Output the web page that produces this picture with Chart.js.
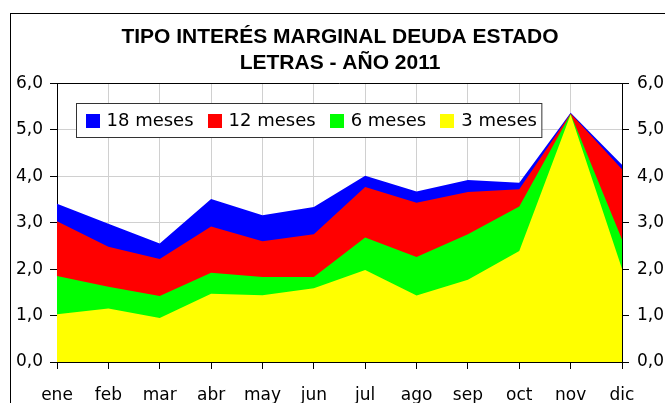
<!DOCTYPE html>
<html>
<head>
<meta charset="utf-8">
<script src="https://cdn.jsdelivr.net/npm/chart.js@4/dist/chart.umd.min.js"></script>
<style>
html,body{margin:0;padding:0;background:#fff;}
canvas{display:block;}
</style>
</head>
<body>
<canvas id="c" width="665" height="403"></canvas>
<script>
const months = ['ene','feb','mar','abr','may','jun','jul','ago','sep','oct','nov','dic'];
const labels = ['18 meses','12 meses','6 meses','3 meses'];
const m18 = [3.41,2.98,2.55,3.51,3.16,3.34,4.01,3.67,3.92,3.86,5.37,4.25];
const m12 = [3.03,2.48,2.22,2.92,2.60,2.75,3.77,3.43,3.66,3.72,5.35,4.15];
const m6  = [1.85,1.62,1.42,1.92,1.83,1.83,2.68,2.26,2.75,3.35,5.34,2.64];
const m3  = [1.03,1.15,0.95,1.47,1.44,1.59,1.98,1.43,1.77,2.39,5.33,2.01];
const yTicks = [0,1,2,3,4,5,6];
const titleLines = ['TIPO INTERÉS MARGINAL DEUDA ESTADO','LETRAS - AÑO 2011'];

const colors = ['#0000FF','#FF0000','#00FF00','#FFFF00'];
const series = [m18,m12,m6,m3];
const FONT = 'DejaVu Sans';

const framePlugin = {
  id:'frame',
  beforeDraw(chart){
    const ctx = chart.ctx;
    ctx.save();
    ctx.fillStyle = '#fff';
    ctx.fillRect(0,0,chart.width,chart.height);
    ctx.strokeStyle = '#000';
    ctx.lineWidth = 1;
    ctx.strokeRect(10.5,13.5,800,600);
    ctx.restore();
  },
  afterDatasetsDraw(chart){
    const ctx = chart.ctx, a = chart.chartArea;
    ctx.save();
    ctx.strokeStyle = '#000';
    ctx.lineWidth = 1;
    ctx.beginPath();
    ctx.moveTo(a.left, Math.round(a.top)+0.5);
    ctx.lineTo(a.right, Math.round(a.top)+0.5);
    ctx.stroke();
    // legend box
    ctx.font = '18px "' + FONT + '"';
    ctx.textBaseline = 'middle';
    ctx.textAlign = 'left';
    const sq = 14, gapSq = 7, gapItem = 14, padL = 9, padR = 5, h = 34;
    const items = chart.data.datasets.map(d => ({label: d.label, color: d.backgroundColor}));
    let w = padL;
    items.forEach((it,i) => { w += sq + gapSq + ctx.measureText(it.label).width + (i < items.length-1 ? gapItem : padR); });
    const x0 = Math.round(a.left + 19) + 0.5, y0 = Math.round(a.top + 20) + 0.5;
    ctx.fillStyle = '#fff';
    ctx.fillRect(x0, y0, w, h);
    ctx.strokeStyle = '#333';
    ctx.strokeRect(x0, y0, w, h);
    let x = x0 + padL;
    const cy = y0 + h/2;
    items.forEach(it => {
      ctx.fillStyle = it.color;
      ctx.fillRect(Math.round(x), Math.round(cy - sq/2), sq, sq);
      x += sq + gapSq;
      ctx.fillStyle = '#000';
      ctx.fillText(it.label, x, cy + 1);
      x += ctx.measureText(it.label).width + gapItem;
    });
    ctx.restore();
  }
};

const fmt = v => Number(v).toFixed(1).replace('.', ',');

new Chart(document.getElementById('c'), {
  type: 'line',
  data: {
    labels: months,
    datasets: series.map((s,i) => ({
      label: labels[i],
      data: s,
      backgroundColor: colors[i],
      borderColor: colors[i],
      borderWidth: 0,
      pointRadius: 0,
      fill: 'origin',
      tension: 0,
      order: 4 - i,
      yAxisID: 'y'
    }))
  },
  options: {
    responsive: false,
    animation: false,
    devicePixelRatio: 1,
    layout: { padding: { left: 15, right: 0, top: 0, bottom: 0 } },
    plugins: {
      legend: { display: false },
      tooltip: { enabled: false },
      title: {
        display: true,
        text: titleLines,
        color: '#000',
        font: { family: 'Liberation Sans', size: 21, weight: 'bold', lineHeight: 1.2 },
        padding: { top: 25, bottom: 8 }
      }
    },
    scales: {
      x: {
        offset: false,
        grid: { color: '#d0d0d0', tickColor: '#000', tickLength: 7, drawTicks: true },
        border: { color: '#000' },
        ticks: { color: '#000', font: { family: FONT, size: 17 }, padding: 16, maxRotation: 0, autoSkip: false },
        afterFit(s){ s.height = 41; }
      },
      y: {
        position: 'left',
        min: 0, max: 6,
        afterBuildTicks(s){ s.ticks = yTicks.map(v => ({value: v})); },
        grid: { color: '#d0d0d0', tickColor: '#000', tickLength: 7 },
        border: { color: '#000' },
        ticks: { color: '#000', font: { family: FONT, size: 17 }, padding: 7, callback: fmt },
        afterFit(s){ s.width = 42; }
      },
      y2: {
        position: 'right',
        min: 0, max: 6,
        afterBuildTicks(s){ s.ticks = yTicks.map(v => ({value: v})); },
        grid: { drawOnChartArea: false, tickColor: '#000', tickLength: 7 },
        border: { color: '#000' },
        ticks: { color: '#000', font: { family: FONT, size: 17 }, padding: 8, callback: fmt },
        afterFit(s){ s.width = 43; }
      }
    }
  },
  plugins: [framePlugin]
});
</script>
</body>
</html>
